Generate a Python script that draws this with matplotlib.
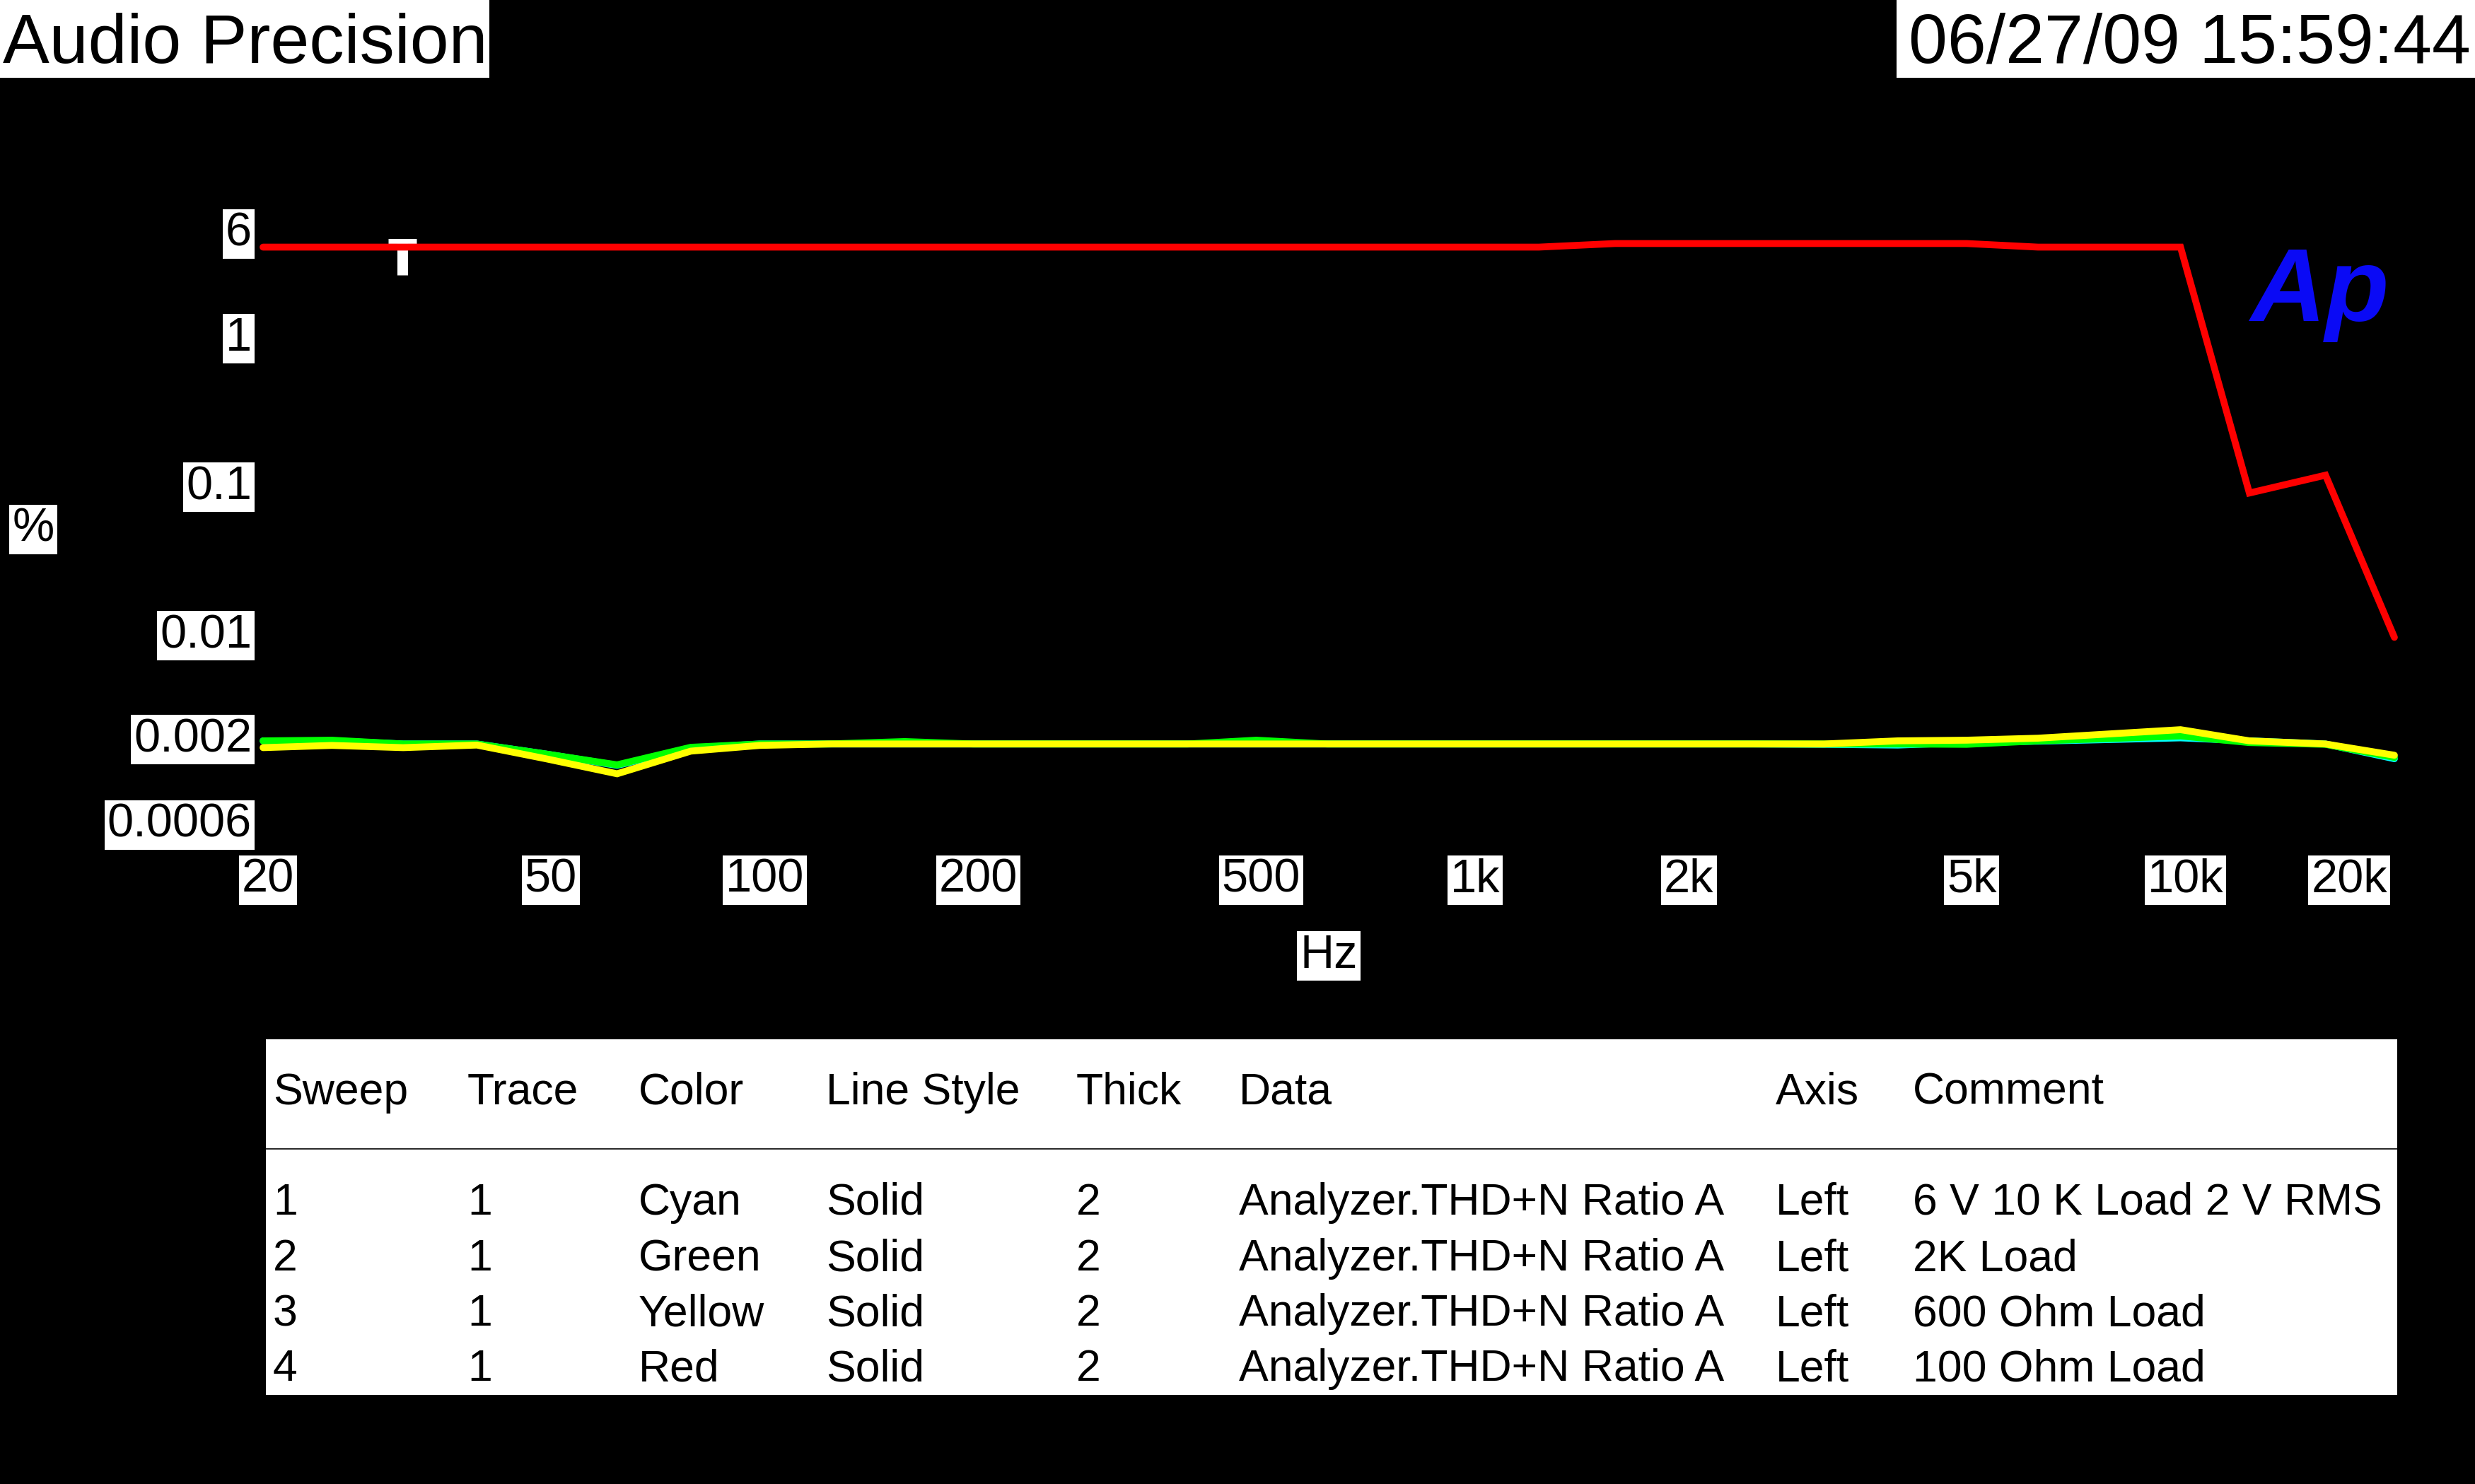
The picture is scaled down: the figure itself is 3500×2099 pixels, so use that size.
import matplotlib
matplotlib.use("Agg")
import matplotlib.pyplot as plt
from matplotlib.patches import Rectangle
from matplotlib.lines import Line2D

plt.rcParams['font.family'] = ['Liberation Sans', 'DejaVu Sans']

# sweep frequencies (1/3 octave, Hz)
freqs = [20, 25, 31.5, 40, 50, 63, 80, 100, 125, 160, 200, 250, 315, 400, 500,
         630, 800, 1000, 1250, 1600, 2000, 2500, 3150, 4000, 5000, 6300, 8000,
         10000, 12500, 16000, 20000]

# THD+N ratio, %
cyan_vals = [0.0019, 0.0019, 0.00181, 0.00181, 0.00155, 0.0013, 0.0017, 0.00181,
             0.00181, 0.00181, 0.00181, 0.00181, 0.00181, 0.00181, 0.00181,
             0.00181, 0.00181, 0.00181, 0.00181, 0.00181, 0.00181, 0.00181,
             0.0018, 0.00178, 0.00185, 0.00189, 0.00194, 0.00199, 0.0019,
             0.00181, 0.00144]
green_vals = [0.0019, 0.00192, 0.00181, 0.00181, 0.00155, 0.00131, 0.00172, 0.00181,
              0.00181, 0.00188, 0.00181, 0.00181, 0.00181, 0.00181, 0.00192,
              0.00181, 0.00181, 0.00181, 0.00181, 0.00181, 0.00181, 0.00181,
              0.00181, 0.00181, 0.0018, 0.0019, 0.00197, 0.00205, 0.00185,
              0.0018, 0.00147]
yellow_vals = [0.00171, 0.00177, 0.00171, 0.00178, 0.00144, 0.00114, 0.00162, 0.00177,
               0.00181, 0.00181, 0.00181, 0.00181, 0.00181, 0.00181, 0.00181,
               0.00181, 0.00181, 0.00181, 0.00181, 0.00181, 0.00181, 0.00181,
               0.00181, 0.0019, 0.00192, 0.00198, 0.00212, 0.00226, 0.0019,
               0.00181, 0.00152]
red_vals = [4.02, 4.02, 4.02, 4.02, 4.02, 4.02, 4.02, 4.02, 4.02, 4.02, 4.02,
            4.02, 4.02, 4.02, 4.02, 4.02, 4.02, 4.02, 4.02, 4.25, 4.25, 4.25,
            4.25, 4.25, 4.25, 4.02, 4.02, 4.02, 0.0887, 0.117, 0.00946]

y_ticks = [6, 1, 0.1, 0.01, 0.002, 0.0006]
y_labels = ['6', '1', '0.1', '0.01', '0.002', '0.0006']
x_ticks = [20, 50, 100, 200, 500, 1000, 2000, 5000, 10000, 20000]
x_labels = ['20', '50', '100', '200', '500', '1k', '2k', '5k', '10k', '20k']

table_header = ['Sweep', 'Trace', 'Color', 'Line Style', 'Thick', 'Data', 'Axis', 'Comment']
table_rows = [
    ['1', '1', 'Cyan', 'Solid', '2', 'Analyzer.THD+N Ratio A', 'Left', '6 V 10 K Load 2 V RMS'],
    ['2', '1', 'Green', 'Solid', '2', 'Analyzer.THD+N Ratio A', 'Left', '2K Load'],
    ['3', '1', 'Yellow', 'Solid', '2', 'Analyzer.THD+N Ratio A', 'Left', '600 Ohm Load'],
    ['4', '1', 'Red', 'Solid', '2', 'Analyzer.THD+N Ratio A', 'Left', '100 Ohm Load'],
]

W, H = 3500, 2099


def px(x, y):
    # pixel position (from top-left) -> figure fraction
    return x / W, 1 - y / H


fig = plt.figure(figsize=(35, 20.99), dpi=100, facecolor='black')

# title boxes
fig.patches.append(Rectangle(px(0, 110), 692 / W, 110 / H, transform=fig.transFigure,
                             facecolor='white', edgecolor='none'))
fig.text(*px(4, 89), 'Audio Precision', fontsize=71, color='black', va='baseline')
fig.patches.append(Rectangle(px(2682, 110), 818 / W, 110 / H, transform=fig.transFigure,
                             facecolor='white', edgecolor='none'))
fig.text(*px(3494, 89), '06/27/09 15:59:44', fontsize=71, color='black',
         va='baseline', ha='right')

# plot area
ax = fig.add_axes([372 / W, 1 - 1153 / H, 3014 / W, 840 / H])
ax.set_facecolor('black')
ax.set_xscale('log')
ax.set_yscale('log')
ax.set_xlim(20, 20000)
ax.set_ylim(0.0006, 6)
for s in ax.spines.values():
    s.set_visible(False)
ax.set_xticks([])
ax.set_yticks([])
ax.minorticks_off()

# cursor marker
ax.plot([30, 32.9], [4.42, 4.42], color='white', lw=5, solid_capstyle='butt', zorder=1)
ax.plot([31.4, 31.4], [4.44, 2.62], color='white', lw=10.8, solid_capstyle='butt', zorder=1)

lw = 7
for vals, col in [(cyan_vals, '#00ffff'), (green_vals, '#00ff00'),
                  (yellow_vals, '#ffff00'), (red_vals, '#ff0000')]:
    ax.plot(freqs, vals, color=col, lw=lw, solid_capstyle='round',
            solid_joinstyle='miter', clip_on=False, zorder=2)

box = dict(boxstyle='square,pad=0.06', facecolor='white', edgecolor='none')

for v, lbl in zip(y_ticks, y_labels):
    dy = -3
    if v == 6:
        dy = -18
    elif v == 0.0006:
        dy = -14
    ax.annotate(lbl, xy=(0, v), xycoords=('axes fraction', 'data'),
                xytext=(-16, dy), textcoords='offset pixels', ha='right',
                va='center', fontsize=48, color='black', bbox=box,
                annotation_clip=False)

for f, lbl in zip(x_ticks, x_labels):
    if f == 20000:
        ax.annotate(lbl, xy=(f, 0), xycoords=('data', 'axes fraction'),
                    xytext=(-10, -92), textcoords='offset pixels', ha='right',
                    va='center', fontsize=48, color='black', bbox=box,
                    annotation_clip=False)
    else:
        ax.annotate(lbl, xy=(f, 0), xycoords=('data', 'axes fraction'),
                    xytext=(7, -92), textcoords='offset pixels', ha='center',
                    va='center', fontsize=48, color='black', bbox=box,
                    annotation_clip=False)

fig.text(*px(47, 749), '%', fontsize=48, ha='center', va='center', color='black', bbox=box)
fig.text(*px(1879, 1352), 'Hz', fontsize=48, ha='center', va='center', color='black', bbox=box)

# Ap logo
fig.text(*px(3182, 454), 'Ap', fontsize=106, fontweight='bold', fontstyle='italic',
         color='#0a0af5', ha='left', va='baseline')

# legend table
fig.patches.append(Rectangle(px(376, 1973), (3390 - 376) / W, (1973 - 1470) / H,
                             transform=fig.transFigure, facecolor='white', edgecolor='none'))
fig.lines.append(Line2D([376 / W, 3390 / W], [1 - 1625 / H, 1 - 1625 / H],
                        transform=fig.transFigure, color='black', lw=1.2))

col_x = [386, 661, 903, 1168, 1522, 1752, 2511, 2705]
for x, txt in zip(col_x, table_header):
    fig.text(*px(x, 1562), txt, fontsize=45, color='black', va='baseline')
row_y = [1718, 1797, 1875, 1953]
for y, row in zip(row_y, table_rows):
    for x, txt in zip(col_x, row):
        fig.text(*px(x, y), txt, fontsize=45, color='black', va='baseline')

fig.savefig('out.png', dpi=100, facecolor='black')
